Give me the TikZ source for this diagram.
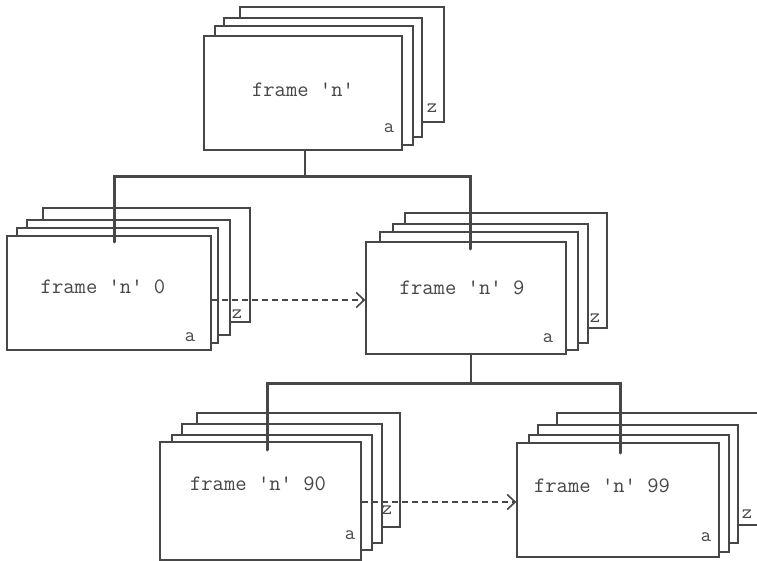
\documentclass[tikz,border=0pt]{standalone}
\usetikzlibrary{arrows.meta}
\definecolor{ink}{HTML}{474747}
\tikzset{
  layer/.style={draw=ink, fill=white, line width=1.3pt},
  frontframe/.style={draw=ink, fill=white, line width=1.3pt, inner sep=0pt, rectangle},
  lbl/.style={text=ink, font=\ttfamily\fontsize{22}{24}\selectfont, inner sep=0pt},
  small/.style={text=ink, font=\ttfamily\fontsize{20}{22}\selectfont, inner sep=0pt},
  thin/.style={draw=ink, line width=1.3pt},
  bus/.style={draw=ink, line width=3pt},
  darrow/.style={draw=ink, line width=1.2pt, dash pattern=on 6pt off 4pt, -{Straight Barb[length=8pt,width=15pt,line width=1.6pt]}}
}
\begin{document}
\begin{tikzpicture}[x=1pt,y=-1pt]
\useasboundingbox (0,0) rectangle (757,561);
\clip (0,0) rectangle (757,561);
% top group
\draw[layer] (240,7) rectangle (444,122);
\draw[layer] (224,18) rectangle (422,137);
\draw[layer] (215,26) rectangle (413,145);
\node[frontframe, minimum width=198pt, minimum height=114pt] (T) at (303,93) {};
\node[lbl] (Tt) at (303,90) {frame 'n'};
\node[small] (Ta) at (389,128) {a};
\node[small] (Tz) at (432,108) {z};
% middle left
\draw[layer] (43,208) rectangle (250,322);
\draw[layer] (27,220) rectangle (230,335);
\draw[layer] (17,228) rectangle (218,343);
\node[frontframe, minimum width=204pt, minimum height=114pt] (ML) at (109,293) {};
\node[lbl] (MLt) at (103,287) {frame 'n' 0};
\node[small] (MLa) at (190,337) {a};
\node[small] (MLz) at (237,314) {z};
% middle right
\draw[layer] (405,213) rectangle (607,328);
\draw[layer] (393,224) rectangle (588,343);
\draw[layer] (380,232) rectangle (578,350);
\node[frontframe, minimum width=200pt, minimum height=112pt] (MR) at (466,298) {};
\node[lbl] (MRt) at (462,288) {frame 'n' 9};
\node[small] (MRa) at (548,338) {a};
\node[small] (MRz) at (595,318) {z};
% bottom left
\draw[layer] (197,413) rectangle (400,527);
\draw[layer] (182,424) rectangle (382,543);
\draw[layer] (172,435) rectangle (372,550);
\node[frontframe, minimum width=201pt, minimum height=118pt] (BL) at (260.5,501) {};
\node[lbl] (BLt) at (258,484) {frame 'n' 90};
\node[small] (BLa) at (350,535) {a};
\node[small] (BLz) at (387,510) {z};
% bottom right
\draw[layer] (557,413) rectangle (790,525);
\draw[layer] (538,425) rectangle (738,543);
\draw[layer] (529,435) rectangle (729,552);
\node[frontframe, minimum width=202pt, minimum height=114pt] (BR) at (618,500) {};
\node[lbl] (BRt) at (602,486) {frame 'n' 99};
\node[small] (BRa) at (706,537) {a};
\node[small] (BRz) at (747,514) {z};
% connectors
\coordinate (bus1) at (305,177);
\coordinate (MLd) at (114,242);
\coordinate (MRd) at (470,249);
\draw[thin] ([xshift=2pt]T.south) -- (bus1);
\draw[bus, line cap=round] (MLd) |- (bus1) -| (MRd);
\coordinate (bus2) at (471,383);
\coordinate (BLd) at (267,450);
\coordinate (BRd) at (620,453);
\draw[thin] ([xshift=5pt]MR.south) -- (bus2);
\draw[bus, line cap=round] (BLd) |- (bus2) -| (BRd);
\draw[darrow] ([yshift=-7pt]ML.east) -- ([yshift=-7pt]ML.east -| MR.west);
\draw[darrow] ([yshift=-1pt]BL.east) -- ([yshift=-1pt]BL.east -| BR.west);
\end{tikzpicture}
\end{document}
